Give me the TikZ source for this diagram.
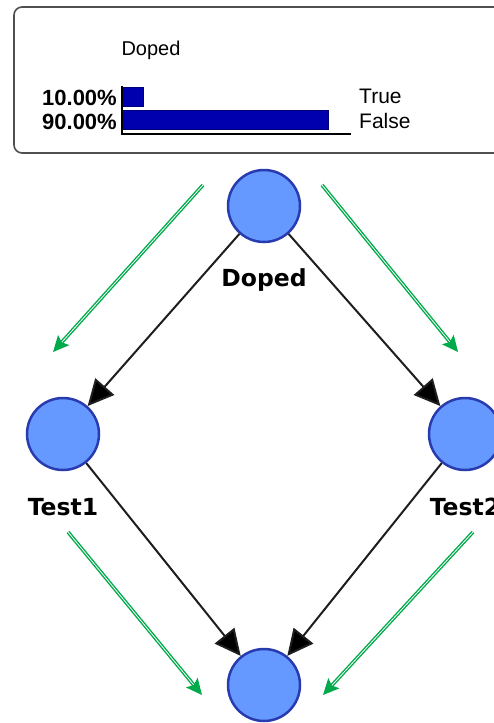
\documentclass[tikz,border=0pt]{standalone}
\usepackage{fontspec}
\setmainfont{Liberation Sans}
\newfontfamily\labelfont{DejaVu Sans}
\usetikzlibrary{arrows.meta}
\definecolor{nodefill}{RGB}{102,153,255}
\definecolor{nodedraw}{RGB}{40,60,175}
\definecolor{barblue}{RGB}{0,0,175}
\definecolor{arrowgreen}{RGB}{0,170,75}
\definecolor{boxgray}{RGB}{80,80,80}
\definecolor{edgegray}{RGB}{30,30,30}
\tikzset{
  bnode/.style={circle, draw=nodedraw, fill=nodefill, line width=2.5pt, minimum size=72pt, inner sep=0pt},
  lbl/.style={font=\labelfont\bfseries\fontsize{23.5}{26}\selectfont, anchor=base, inner sep=0pt},
  pct/.style={font=\bfseries\fontsize{22}{24}\selectfont, anchor=base east, inner sep=0pt},
  stname/.style={font=\fontsize{21}{24}\selectfont, anchor=base west, inner sep=0pt},
  barrow/.style={draw=edgegray, line width=2pt, -{Triangle[length=26pt,width=25pt,fill=black]}},
  garrow/.style={draw=arrowgreen, line width=1.4pt, double=white, double distance=0.8pt, -{Stealth[length=16pt,width=15pt,inset=3pt]}},
  bar/.style={fill=barblue, draw=barblue!70!black, line width=0.5pt}
}
\begin{document}
\begin{tikzpicture}[x=1pt,y=-1pt]
\useasboundingbox (0,0) rectangle (494,723);
\clip (0,0) rectangle (494,723);
% monitor box
\draw[boxgray, line width=1.6pt, rounded corners=8pt] (14,7) rectangle (530,153);
\node[font=\fontsize{20}{24}\selectfont, anchor=base, inner sep=0pt] (title) at (151,55) {Doped};
\node[pct] (p1) at (117,105) {10.00\%};
\node[pct] (p2) at (117,129) {90.00\%};
\node[stname] (s1) at (359,103) {True};
\node[stname] (s2) at (359,128) {False};
\fill[bar] (122,87) rectangle (143,106);
\fill[bar] (122,110) rectangle (328,129);
\draw[black, line width=1.2pt] (122,86) -- (122,134) -- (351,134);
% nodes
\node[bnode] (doped) at (264,206) {};
\node[bnode] (test1) at (63,434) {};
\node[bnode] (test2) at (465,434) {};
\node[bnode] (result) at (264,685) {};
\node[lbl] (dopedlbl) at (264,286) {Doped};
\node[lbl] (test1lbl) at (63,515) {Test1};
\node[lbl] (test2lbl) at (465,515) {Test2};
% edges
\draw[barrow] (doped) -- (test1);
\draw[barrow] (doped) -- (test2);
\draw[barrow] (test1) -- (result);
\draw[barrow] (test2) -- (result);
% green flow arrows
\coordinate (g1s) at (203,185); \coordinate (g1e) at (53,352);
\coordinate (g2s) at (322,185); \coordinate (g2e) at (458,352);
\coordinate (g3s) at (68,532);  \coordinate (g3e) at (202,695);
\coordinate (g4s) at (473,532); \coordinate (g4e) at (323,695);
\draw[garrow] (g1s) -- (g1e);
\draw[garrow] (g2s) -- (g2e);
\draw[garrow] (g3s) -- (g3e);
\draw[garrow] (g4s) -- (g4e);
\end{tikzpicture}
\end{document}
